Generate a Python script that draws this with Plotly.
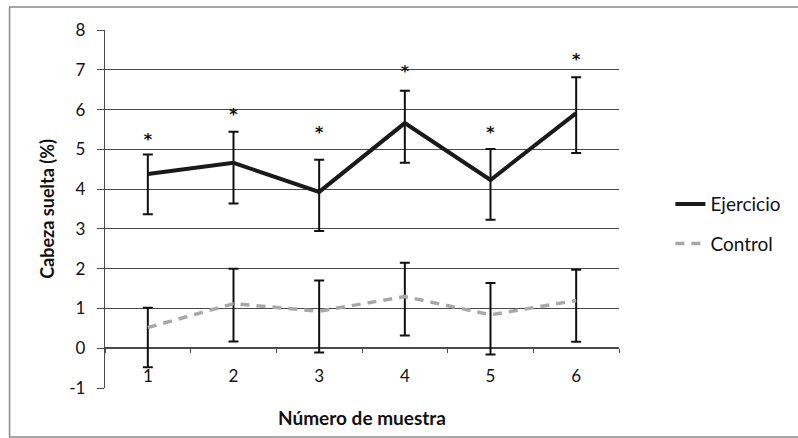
import plotly.graph_objects as go

muestra = [1, 2, 3, 4, 5, 6]
tick_labels = ["1", "2", "3", "4", "5", "6"]
y_ticks = [-1, 0, 1, 2, 3, 4, 5, 6, 7, 8]
y_tick_labels = ["-1", "0", "1", "2", "3", "4", "5", "6", "7", "8"]

ejercicio = [4.38, 4.66, 3.93, 5.66, 4.23, 5.91]
ejercicio_err_plus = [0.49, 0.78, 0.81, 0.81, 0.78, 0.90]
ejercicio_err_minus = [1.01, 1.02, 0.98, 1.00, 1.00, 1.00]

control = [0.52, 1.12, 0.93, 1.30, 0.84, 1.20]
control_err_plus = [0.50, 0.88, 0.77, 0.85, 0.80, 0.77]
control_err_minus = [1.00, 0.95, 1.04, 0.98, 1.00, 1.04]

sig_y = [5.36, 5.97, 5.53, 7.07, 5.53, 7.35]
sig_text = ["*", "*", "*", "*", "*", "*"]

FONT = "Lato"
GRID = "#4a4a4a"
TXT = "#111111"

fig = go.Figure()

fig.add_trace(go.Scatter(
    x=muestra, y=ejercicio, name="Ejercicio", mode="lines", legendgroup="a",
    line=dict(color="#1a1a1a", width=4),
    error_y=dict(type="data", symmetric=False, array=ejercicio_err_plus,
                 arrayminus=ejercicio_err_minus, color="#111", thickness=2, width=5),
))
fig.add_trace(go.Scatter(
    x=muestra, y=control, name="Control", mode="lines", legendgroup="b",
    line=dict(color="#a8a8a8", width=3.5, dash="9px,7px"),
    error_y=dict(type="data", symmetric=False, array=control_err_plus,
                 arrayminus=control_err_minus, color="#111", thickness=2, width=5),
))
# glyph "*" sits high in its text box; shift the box so the glyph is centred on the value
fig.add_trace(go.Scatter(
    x=muestra, y=[v - 0.14 for v in sig_y], mode="text", text=sig_text, showlegend=False,
    textposition="middle center",
    textfont=dict(family="DejaVu Sans", size=16, color=TXT, weight="bold"),
    hoverinfo="skip",
))

fig.update_layout(
    width=798, height=438,
    margin=dict(l=105, r=176, t=30, b=50),
    paper_bgcolor="white", plot_bgcolor="white",
    font=dict(family=FONT, size=16, color=TXT),
    legend=dict(x=1.1, y=0.458, xanchor="left", yanchor="middle",
                traceorder="grouped", tracegroupgap=12,
                font=dict(family=FONT, size=19, color=TXT),
                bgcolor="rgba(0,0,0,0)"),
    shapes=[dict(type="rect", xref="paper", yref="paper",
                 x0=(9 - 105) / 517, x1=(810 - 105) / 517,
                 y0=(388 - 437) / 358, y1=(388 - 7) / 358,
                 line=dict(color="#8a8a8a", width=1.5), layer="below")],
    xaxis=dict(
        range=[0.5, 6.5], tickmode="array", tickvals=muestra, ticktext=tick_labels,
        anchor="free", position=1 / 9, showline=False, showgrid=False, zeroline=False,
        ticks="outside", ticklen=12, tickcolor="rgba(0,0,0,0)",
        tickfont=dict(family=FONT, size=17, color=TXT),
        minor=dict(tickmode="array", tickvals=[0.5, 1.5, 2.5, 3.5, 4.5, 5.5, 6.5],
                   ticks="outside", ticklen=4, tickcolor=GRID, tickwidth=1.3),
        title=dict(text="<b>Número de muestra</b>", standoff=27,
                   font=dict(family=FONT, size=19, color=TXT)),
        automargin=False,
    ),
    yaxis=dict(
        range=[-1, 8], tickmode="array", tickvals=y_ticks, ticktext=y_tick_labels,
        showgrid=True, gridcolor=GRID, gridwidth=1.3,
        zeroline=True, zerolinecolor=GRID, zerolinewidth=1.5,
        showline=True, linecolor=GRID, linewidth=1.3,
        ticks="outside", ticklen=7, tickcolor=GRID, tickwidth=1.3,
        ticklabelstandoff=8,
        tickfont=dict(family=FONT, size=17, color=TXT),
        title=dict(text="<b>Cabeza suelta (%)</b>", standoff=9,
                   font=dict(family=FONT, size=18, color=TXT)),
        automargin=False,
    ),
)

fig.write_html("out.html")
